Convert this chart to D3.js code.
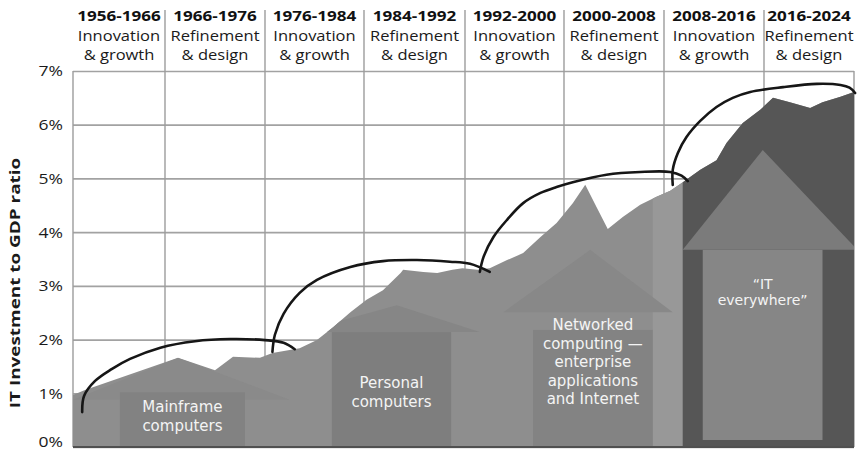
<!DOCTYPE html>
<html>
<head>
<meta charset="utf-8">
<script src="https://cdn.jsdelivr.net/npm/d3@7"></script>
<style>
  html, body { margin: 0; padding: 0; background: #ffffff; }
  svg { display: block; font-family: "Open Sans", "DejaVu Sans", sans-serif; }
</style>
</head>
<body>
<svg id="chart" width="862" height="451"></svg>
<script>
// ---- data ----------------------------------------------------------------
const periods      = ["1956-1966", "1966-1976", "1976-1984", "1984-1992", "1992-2000", "2000-2008", "2008-2016", "2016-2024"];
const periodBounds = [1956, 1966, 1976, 1984, 1992, 2000, 2008, 2016, 2024];
const phaseWord    = ["Innovation", "Refinement", "Innovation", "Refinement", "Innovation", "Refinement", "Innovation", "Refinement"];
const phaseTail    = ["& growth", "& design", "& growth", "& design", "& growth", "& design", "& growth", "& design"];
const yTicks       = [0, 1, 2, 3, 4, 5, 6, 7];

// IT investment as a share of GDP (%)
const years = [1956.0, 1957.3, 1967.3, 1971.0, 1972.8, 1975.5, 1976.6, 1978.8, 1980.2, 1981.5,
               1982.9, 1984.2, 1985.5, 1986.9, 1987.1, 1988.7, 1989.8, 1991.0, 1991.8, 1993.0,
               1994.0, 1995.4, 1996.7, 1998.1, 1999.4, 2000.7, 2001.7, 2002.6, 2003.5, 2004.7,
               2006.1, 2007.4, 2008.5, 2009.5, 2010.9, 2012.2, 2013.0, 2014.3, 2015.7, 2016.8,
               2018.3, 2020.1, 2021.2, 2022.8, 2024.0];
const ratio = [0.97, 1.06, 1.66, 1.43, 1.68, 1.66, 1.75, 1.84, 1.99, 2.23,
               2.51, 2.74, 2.92, 3.24, 3.30, 3.26, 3.24, 3.30, 3.33, 3.30,
               3.33, 3.48, 3.61, 3.91, 4.17, 4.54, 4.88, 4.47, 4.06, 4.28,
               4.51, 4.66, 4.77, 4.93, 5.16, 5.34, 5.66, 6.03, 6.28, 6.50,
               6.42, 6.31, 6.42, 6.52, 6.61];

// computing eras, drawn as upward arrows (years / % of GDP)
const eraLines     = [["Mainframe", "computers"],
                      ["Personal", "computers"],
                      ["Networked", "computing \u2014", "enterprise", "applications", "and Internet"],
                      ["\u201CIT", "everywhere\u201D"]];
const eraStemFrom  = [1961.1, 1981.4, 1997.5, 2011.1];
const eraStemTo    = [1974.0, 1990.9, 2007.1, 2021.2];
const eraStemBase  = [0, 0, 0, 0.13];
const eraStemTop   = [1.02, 2.14, 2.18, 3.67];
const eraRoofFrom  = [1956.0, 1978.8, 1995.1, 2009.5];
const eraRoofTo    = [1978.0, 1993.2, 2008.7, 2024.3];
const eraRoofBase  = [0.88, 2.14, 2.51, 3.67];
const eraRoofApexX = [1967.3, 1986.6, 2002.1, 2015.9];
const eraRoofApex  = [1.66, 2.64, 3.67, 5.53];
const eraLabelAt   = [0.65, 1.10, 2.18, 2.95];

// the most recent era sits on a darker band
const recentBand     = [2009.5, 2024.0];
const transitionBand = [2007.1, 2009.5];

// arcs tracing each innovation/refinement cycle
const cycleArcs = [
  [[1957.0,0.65],[1957.2,0.95],[1958.4,1.23],[1960.2,1.45],[1962.2,1.64],[1965.5,1.85],[1969.0,1.97],[1972.5,2.01],[1976.0,1.99],[1977.5,1.94],[1978.4,1.82]],
  [[1976.6,1.77],[1976.8,2.09],[1977.5,2.48],[1978.8,2.87],[1980.2,3.11],[1982.9,3.35],[1985.5,3.46],[1988.2,3.48],[1990.8,3.45],[1992.4,3.41],[1994.0,3.26]],
  [[1993.2,3.26],[1993.5,3.54],[1994.3,3.91],[1995.4,4.23],[1996.7,4.54],[1998.1,4.73],[1999.4,4.84],[2000.7,4.93],[2003.4,5.07],[2006.1,5.12],[2008.5,5.12],[2009.4,5.05],[2009.9,4.95]],
  [[2008.7,4.88],[2008.7,5.16],[2009.1,5.47],[2009.8,5.77],[2010.9,6.07],[2012.2,6.33],[2013.5,6.50],[2014.9,6.61],[2017.7,6.70],[2020.7,6.76],[2022.8,6.74],[2023.6,6.69],[2024.1,6.59]]
];

// ---- layout --------------------------------------------------------------
const svg = d3.select("#chart");
const plotLeft = 73, plotTop = 71, plotBottom = 447;
const colWidths = [92, 100, 99, 101, 99, 100, 100, 90];
const xRange = [plotLeft];
colWidths.forEach(w => xRange.push(xRange[xRange.length - 1] + w));
const plotRight = xRange[xRange.length - 1];

const x = d3.scaleLinear().domain(periodBounds).range(xRange);
const y = d3.scaleLinear().domain([0, 7]).range([plotBottom, plotTop]);

// ---- grid ----------------------------------------------------------------
const grid = svg.append("g")
  .attr("transform", `translate(${plotLeft},0)`)
  .call(d3.axisLeft(y).tickValues(yTicks).tickSize(-(plotRight - plotLeft)).tickFormat(""));
grid.select(".domain").remove();
grid.selectAll(".tick line").attr("stroke", "#a2a2a2").attr("stroke-width", 1.7);

svg.append("g").selectAll("line")
  .data(periodBounds)
  .join("line")
  .attr("x1", d => x(d)).attr("x2", d => x(d))
  .attr("y1", (d, i) => (i === 0 || i === periodBounds.length - 1) ? plotTop : 10)
  .attr("y2", plotBottom)
  .attr("stroke", "#9c9c9c")
  .attr("stroke-width", 1.4);

// ---- investment area -----------------------------------------------------
const series = years.map((yr, i) => [yr, ratio[i]]);
const area = d3.area().x(d => x(d[0])).y0(y(0)).y1(d => y(d[1]));

svg.append("clipPath").attr("id", "areaClip")
  .append("path").attr("d", area(series));

svg.append("path").attr("d", area(series)).attr("fill", "#8e8e8e");

const layers = svg.append("g").attr("clip-path", "url(#areaClip)");
const rect = (x0, x1, v0, v1, fill) =>
  layers.append("rect")
    .attr("x", x(x0)).attr("width", x(x1) - x(x0))
    .attr("y", y(v1)).attr("height", y(v0) - y(v1))
    .attr("fill", fill);
const roof = (i, fill) =>
  layers.append("path")
    .attr("d", d3.line()([[x(eraRoofFrom[i]), y(eraRoofBase[i])],
                          [x(eraRoofApexX[i]), y(eraRoofApex[i])],
                          [x(eraRoofTo[i]), y(eraRoofBase[i])]]) + "Z")
    .attr("fill", fill);

const roofFill = ["#8a8a8a", "#868686", "#888888", "#7b7b7b"];
const stemFill = ["#828282", "#7e7e7e", "#838383", "#868686"];

rect(transitionBand[0], transitionBand[1], 0, 7, "#989898");
rect(recentBand[0], recentBand[1], 0, 7, "#565656");
eraLines.forEach((_, i) => {
  roof(i, roofFill[i]);
  rect(eraStemFrom[i], eraStemTo[i], eraStemBase[i], eraStemTop[i], stemFill[i]);
});

// ---- cycle arcs ----------------------------------------------------------
const arcLine = d3.line().x(d => x(d[0])).y(d => y(d[1])).curve(d3.curveCatmullRom.alpha(0.5));
svg.append("g").selectAll("path")
  .data(cycleArcs)
  .join("path")
  .attr("d", arcLine)
  .attr("fill", "none")
  .attr("stroke", "#161616")
  .attr("stroke-width", 2.6)
  .attr("stroke-linecap", "round");

// ---- era labels ----------------------------------------------------------
eraLines.forEach((lines, i) => {
  const cx = (x(eraStemFrom[i]) + x(eraStemTo[i])) / 2;
  const y0 = y(eraLabelAt[i]);
  const size = i === 3 ? 14 : 15;
  const lead = i === 3 ? 16.8 : 18.6;
  lines.forEach((t, j) => {
    svg.append("text")
      .attr("x", cx)
      .attr("y", y0 + j * lead)
      .attr("text-anchor", "middle")
      .style("font-family", "'DejaVu Sans', sans-serif")
      .style("font-size", size + "px")
      .attr("fill", "#f4f4f4")
      .text(t);
  });
});

// ---- axes ----------------------------------------------------------------
svg.append("line")
  .attr("x1", plotLeft).attr("x2", plotRight)
  .attr("y1", plotBottom).attr("y2", plotBottom)
  .attr("stroke", "#505050").attr("stroke-width", 2);

const yAxis = svg.append("g")
  .attr("transform", `translate(${plotLeft},0)`)
  .call(d3.axisLeft(y).tickValues(yTicks).tickSize(0).tickPadding(0).tickFormat(d => d + "%"));
yAxis.select(".domain").remove();
yAxis.attr("font-family", null).attr("font-size", null);
yAxis.selectAll("text")
  .attr("x", null)
  .attr("dy", d => d === 0 ? "-0.02em" : "0.35em")
  .style("font-family", "'Open Sans', 'DejaVu Sans', sans-serif")
  .style("font-size", "14px")
  .attr("fill", "#1a1a1a")
  .attr("text-anchor", "end")
  .attr("transform", "translate(-10,0) scale(1.25,1)");

svg.append("text")
  .attr("transform", `translate(20,283) rotate(-90) scale(1.35,1)`)
  .attr("text-anchor", "middle")
  .style("font-size", "14px")
  .style("font-weight", 700)
  .attr("fill", "#1a1a1a")
  .text("IT Investment to GDP ratio");

// ---- period header -------------------------------------------------------
const header = svg.append("g");
periods.forEach((p, i) => {
  const cx = (x(periodBounds[i]) + x(periodBounds[i + 1])) / 2;
  header.append("text")
    .attr("transform", `translate(${cx},21) scale(1.22,1)`)
    .attr("text-anchor", "middle").style("font-size", "14px").style("font-weight", 700)
    .attr("fill", "#111").text(p);
  header.append("text")
    .attr("transform", `translate(${cx},41) scale(1.18,1)`)
    .attr("text-anchor", "middle").style("font-size", "14px")
    .attr("fill", "#1a1a1a").text(phaseWord[i]);
  header.append("text")
    .attr("transform", `translate(${cx},60) scale(1.18,1)`)
    .attr("text-anchor", "middle").style("font-size", "14px")
    .attr("fill", "#1a1a1a").text(phaseTail[i]);
});
</script>
</body>
</html>
